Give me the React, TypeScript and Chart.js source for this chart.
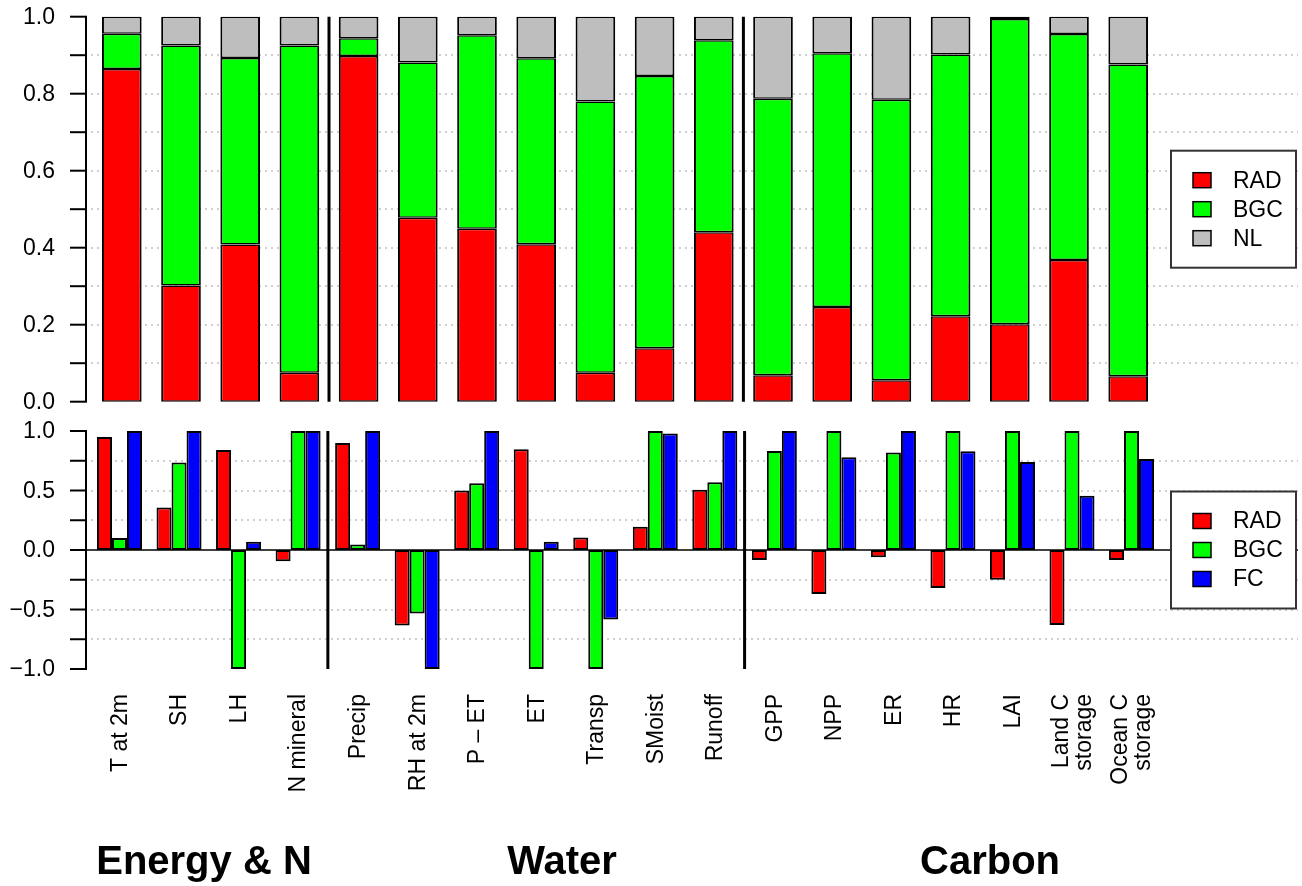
import React, { useEffect, useRef } from "react";
import { Chart, registerables } from "chart.js";

Chart.register(...registerables);

// ---------------- data ----------------
const CATEGORIES: (string | string[])[] = [
  "T at 2m",
  "SH",
  "LH",
  "N mineral",
  "Precip",
  "RH at 2m",
  "P – ET",
  "ET",
  "Transp",
  "SMoist",
  "Runoff",
  "GPP",
  "NPP",
  "ER",
  "HR",
  "LAI",
  ["Land C", "storage"],
  ["Ocean C", "storage"],
];

const GROUP_NAMES = ["Energy & N", "Water", "Carbon"];
const GROUP_SIZES = [4, 7, 7];

// top panel: fraction of variance (stacked to 1)
const SHARE_RAD = [0.864, 0.302, 0.408, 0.075, 0.898, 0.478, 0.449, 0.409, 0.075, 0.139, 0.44, 0.069, 0.246, 0.056, 0.222, 0.201, 0.368, 0.066];
const SHARE_BGC = [0.092, 0.623, 0.485, 0.85, 0.046, 0.403, 0.503, 0.483, 0.705, 0.707, 0.499, 0.718, 0.659, 0.728, 0.68, 0.793, 0.587, 0.81];
const SHARE_NL = [0.044, 0.075, 0.107, 0.075, 0.056, 0.119, 0.048, 0.108, 0.22, 0.154, 0.061, 0.213, 0.095, 0.216, 0.098, 0.006, 0.045, 0.124];

// bottom panel: signed values
const CORR_RAD = [0.95, 0.358, 0.84, -0.095, 0.9, -0.634, 0.5, 0.846, 0.106, 0.196, 0.506, -0.084, -0.37, -0.06, -0.32, -0.25, -0.63, -0.084];
const CORR_BGC = [0.1, 0.735, -1.0, 1.0, 0.047, -0.534, 0.56, -1.0, -1.0, 1.0, 0.57, 0.832, 1.0, 0.82, 1.0, 1.0, 1.0, 1.0];
const CORR_FC = [1.0, 1.0, 0.07, 1.0, 1.0, -1.0, 1.0, 0.07, -0.584, 0.978, 1.0, 1.0, 0.78, 1.0, 0.83, 0.74, 0.455, 0.765];

// axis ticks
const TOP_TICKS = [0, 0.1, 0.2, 0.3, 0.4, 0.5, 0.6, 0.7, 0.8, 0.9, 1.0];
const TOP_LABEL_VALUES = [0, 0.2, 0.4, 0.6, 0.8, 1.0];
const TOP_LABELS = ["0.0", "0.2", "0.4", "0.6", "0.8", "1.0"];
const TOP_GRID = [0.1, 0.2, 0.3, 0.4, 0.5, 0.6, 0.7, 0.8, 0.9];

const BOT_TICKS = [-1, -0.75, -0.5, -0.25, 0, 0.25, 0.5, 0.75, 1];
const BOT_LABEL_VALUES = [-1, -0.5, 0, 0.5, 1];
const BOT_LABELS = ["\u22121.0", "\u22120.5", "0.0", "0.5", "1.0"];
const BOT_GRID = [-0.75, -0.5, -0.25, 0.25, 0.5, 0.75];

// ---------------- layout / style ----------------
const W = 1302;
const TOP_H = 420;
const BOT_H = 466;
const AXIS_X = 86;
const TICK_LEN = 16;
const LABEL_RIGHT = 55;
const GRID_RIGHT = 1298;
const LEGEND_LEFT = 1171;
const LEGEND_RIGHT = 1296;
const LEGEND_H = 117;
const LEGEND_ROW = 29;
const GROUP_LABEL_X = [204, 562, 990];
const GROUP_LABEL_BASELINE = 874 - TOP_H;
const FONT = '"Liberation Sans", Arial, Helvetica, sans-serif';

const RED = "#FF0000";
const GREEN = "#00FF00";
const GRAY = "#BEBEBE";
const BLUE = "#0000FF";

type FrameOpts = {
  ticks: number[];
  labelValues: number[];
  labels: string[];
  grid: number[];
  zeroLine: boolean;
  xLabels: boolean;
};

function framePlugin(o: FrameOpts) {
  return {
    id: "frame",
    beforeDatasetsDraw(chart: any) {
      const ctx: CanvasRenderingContext2D = chart.ctx;
      const y = chart.scales.y;
      ctx.save();
      ctx.strokeStyle = "#cfcfcf";
      ctx.lineWidth = 2;
      ctx.setLineDash([2, 4]);
      for (const v of o.grid) {
        const py = Math.round(y.getPixelForValue(v));
        ctx.beginPath();
        ctx.moveTo(AXIS_X + 5, py);
        ctx.lineTo(GRID_RIGHT, py);
        ctx.stroke();
      }
      ctx.setLineDash([]);
      if (o.zeroLine) {
        const py = Math.round(y.getPixelForValue(0));
        ctx.strokeStyle = "#000";
        ctx.lineWidth = 1.6;
        ctx.beginPath();
        ctx.moveTo(AXIS_X, py);
        ctx.lineTo(GRID_RIGHT, py);
        ctx.stroke();
      }
      ctx.restore();
    },
    afterDatasetsDraw(chart: any) {
      const ctx: CanvasRenderingContext2D = chart.ctx;
      const y = chart.scales.y;
      const x = chart.scales.x;
      const yTop = y.getPixelForValue(y.max);
      const yBot = y.getPixelForValue(y.min);
      ctx.save();
      // axis
      ctx.strokeStyle = "#000";
      ctx.lineWidth = 2;
      ctx.beginPath();
      ctx.moveTo(AXIS_X, yTop);
      ctx.lineTo(AXIS_X, yBot);
      ctx.stroke();
      for (const v of o.ticks) {
        const py = y.getPixelForValue(v);
        ctx.beginPath();
        ctx.moveTo(AXIS_X - TICK_LEN, py);
        ctx.lineTo(AXIS_X + 1, py);
        ctx.stroke();
      }
      ctx.fillStyle = "#000";
      ctx.font = `23px ${FONT}`;
      ctx.textAlign = "right";
      ctx.textBaseline = "middle";
      o.labelValues.forEach((v, i) => {
        ctx.fillText(o.labels[i], LABEL_RIGHT, y.getPixelForValue(v) + 1);
      });
      // group separators
      ctx.lineWidth = 3;
      let acc = 0;
      for (let g = 0; g < GROUP_SIZES.length - 1; g++) {
        acc += GROUP_SIZES[g];
        const px = x.getPixelForValue(acc - 0.5);
        ctx.beginPath();
        ctx.moveTo(px, yTop);
        ctx.lineTo(px, yBot);
        ctx.stroke();
      }
      // legend
      const midY = (chart.chartArea.top + chart.chartArea.bottom) / 2;
      const lt = midY - LEGEND_H / 2;
      ctx.fillStyle = "#fff";
      ctx.fillRect(LEGEND_LEFT, lt, LEGEND_RIGHT - LEGEND_LEFT, LEGEND_H);
      ctx.strokeStyle = "#333";
      ctx.lineWidth = 2;
      ctx.strokeRect(LEGEND_LEFT, lt, LEGEND_RIGHT - LEGEND_LEFT, LEGEND_H);
      const ds = chart.data.datasets;
      ds.forEach((d: any, i: number) => {
        const cy = midY + (i - (ds.length - 1) / 2) * LEGEND_ROW;
        ctx.fillStyle = d.backgroundColor;
        ctx.fillRect(LEGEND_LEFT + 22, cy - 7.5, 18, 15);
        ctx.strokeStyle = "#000";
        ctx.lineWidth = 1.5;
        ctx.strokeRect(LEGEND_LEFT + 22, cy - 7.5, 18, 15);
        ctx.fillStyle = "#000";
        ctx.textAlign = "left";
        ctx.textBaseline = "middle";
        ctx.font = `23px ${FONT}`;
        ctx.fillText(d.label, LEGEND_LEFT + 62, cy + 1);
      });
      // category labels + group labels
      if (o.xLabels) {
        const labs = chart.data.labels as (string | string[])[];
        const top = chart.chartArea.bottom + 25;
        ctx.font = `23px ${FONT}`;
        ctx.fillStyle = "#000";
        labs.forEach((lab, i) => {
          const lines = Array.isArray(lab) ? lab : [lab];
          const cx = x.getPixelForValue(i);
          ctx.save();
          ctx.translate(cx, top);
          ctx.rotate(-Math.PI / 2);
          ctx.textAlign = "right";
          ctx.textBaseline = "middle";
          lines.forEach((ln, j) => {
            ctx.fillText(ln, 0, (j - (lines.length - 1) / 2) * 23 + 1);
          });
          ctx.restore();
        });
        ctx.font = `bold 40px ${FONT}`;
        ctx.textAlign = "center";
        ctx.textBaseline = "alphabetic";
        GROUP_NAMES.forEach((g, i) => {
          ctx.fillText(g, GROUP_LABEL_X[i], GROUP_LABEL_BASELINE);
        });
      }
      ctx.restore();
    },
  };
}

export default function App() {
  const topRef = useRef<HTMLCanvasElement>(null);
  const botRef = useRef<HTMLCanvasElement>(null);

  useEffect(() => {
    const stackBorder = {
      borderColor: "#000",
      borderWidth: { top: 1.5, bottom: 1.5, left: 2, right: 2 },
      borderSkipped: false as const,
      clip: false as any,
    };
    const groupBorder = {
      borderColor: "#000",
      borderWidth: 2,
      borderSkipped: false as const,
      clip: false as any,
    };
    const top = new Chart(topRef.current as HTMLCanvasElement, {
      type: "bar",
      data: {
        labels: CATEGORIES as any,
        datasets: [
          { label: "RAD", data: SHARE_RAD, backgroundColor: RED, ...stackBorder },
          { label: "BGC", data: SHARE_BGC, backgroundColor: GREEN, ...stackBorder },
          { label: "NL", data: SHARE_NL, backgroundColor: GRAY, ...stackBorder },
        ],
      },
      options: {
        responsive: false,
        animation: false,
        devicePixelRatio: 1,
        layout: { padding: { left: 92.2, right: W - 1157.8, top: 16.7, bottom: TOP_H - 401.7 } },
        plugins: { legend: { display: false }, tooltip: { enabled: false }, title: { display: false } },
        datasets: { bar: { categoryPercentage: 0.67, barPercentage: 1 } },
        scales: {
          x: { type: "category", display: false, stacked: true, offset: true },
          y: { display: false, stacked: true, min: 0, max: 1 },
        },
      },
      plugins: [
        framePlugin({
          ticks: TOP_TICKS,
          labelValues: TOP_LABEL_VALUES,
          labels: TOP_LABELS,
          grid: TOP_GRID,
          zeroLine: false,
          xLabels: false,
        }),
      ],
    } as any);

    const bot = new Chart(botRef.current as HTMLCanvasElement, {
      type: "bar",
      data: {
        labels: CATEGORIES as any,
        datasets: [
          { label: "RAD", data: CORR_RAD, backgroundColor: RED, ...groupBorder },
          { label: "BGC", data: CORR_BGC, backgroundColor: GREEN, ...groupBorder },
          { label: "FC", data: CORR_FC, backgroundColor: BLUE, ...groupBorder },
        ],
      },
      options: {
        responsive: false,
        animation: false,
        devicePixelRatio: 1,
        layout: { padding: { left: 89.74, right: W - 1161.3, top: 431 - TOP_H, bottom: BOT_H - (669 - TOP_H) } },
        plugins: { legend: { display: false }, tooltip: { enabled: false }, title: { display: false } },
        datasets: { bar: { categoryPercentage: 0.756, barPercentage: 1 } },
        scales: {
          x: { type: "category", display: false, offset: true },
          y: { display: false, min: -1, max: 1 },
        },
      },
      plugins: [
        framePlugin({
          ticks: BOT_TICKS,
          labelValues: BOT_LABEL_VALUES,
          labels: BOT_LABELS,
          grid: BOT_GRID,
          zeroLine: true,
          xLabels: true,
        }),
      ],
    } as any);

    return () => {
      top.destroy();
      bot.destroy();
    };
  }, []);

  return (
    <div
      style={{
        position: "fixed",
        left: 0,
        top: 0,
        width: W,
        height: TOP_H + BOT_H,
        background: "#fff",
        overflow: "hidden",
      }}
    >
      <canvas
        ref={topRef}
        width={W}
        height={TOP_H}
        style={{ position: "absolute", left: 0, top: 0, display: "block" }}
      />
      <canvas
        ref={botRef}
        width={W}
        height={BOT_H}
        style={{ position: "absolute", left: 0, top: TOP_H, display: "block" }}
      />
    </div>
  );
}
